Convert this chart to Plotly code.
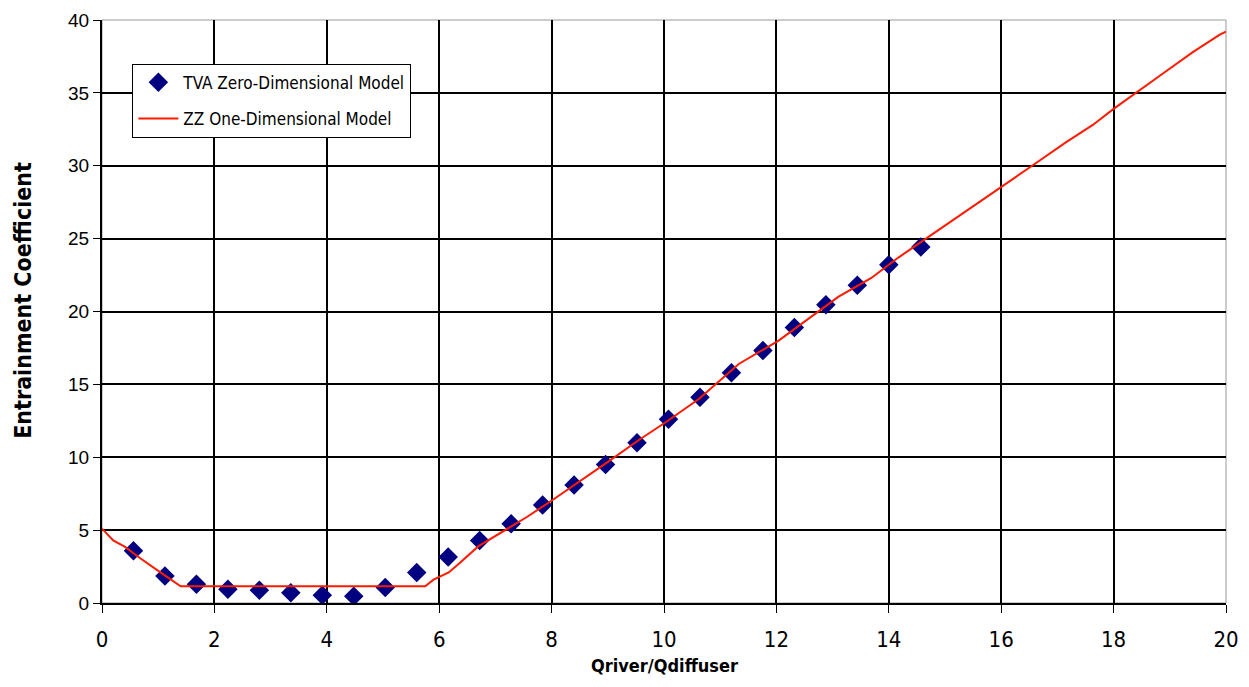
import plotly.graph_objects as go

# TVA zero-dimensional model (markers)
tva_x = [0.56, 1.12, 1.68, 2.24, 2.80, 3.36, 3.92, 4.48, 5.04, 5.60, 6.16, 6.72, 7.28,
         7.84, 8.40, 8.96, 9.52, 10.08, 10.64, 11.20, 11.76, 12.32, 12.88, 13.44, 14.00, 14.57]
tva_y = [3.58, 1.85, 1.28, 0.95, 0.88, 0.70, 0.54, 0.47, 1.06, 2.10, 3.16, 4.29, 5.43,
         6.72, 8.10, 9.50, 11.0, 12.6, 14.12, 15.8, 17.33, 18.9, 20.46, 21.8, 23.2, 24.43]

# ZZ one-dimensional model (line)
zz_x = [0.0, 0.2, 0.41, 0.68, 1.04, 1.3, 1.4, 3.0, 4.5, 5.75, 5.9, 6.0, 6.17, 6.35, 6.7,
        7.26, 7.56, 8.03, 8.68, 8.97, 9.56, 10.03, 10.62, 10.8, 11.33, 12.04, 12.57, 13.1,
        13.69, 14.17, 14.7, 15.35, 15.95, 16.55, 17.15, 17.63, 18.0, 18.46, 18.94, 19.41,
        19.89, 20.0]
zz_y = [5.1, 4.3, 3.85, 3.07, 2.1, 1.44, 1.15, 1.15, 1.15, 1.15, 1.6, 1.8, 2.1, 2.7, 3.9,
        5.2, 5.9, 7.1, 8.8, 9.6, 11.2, 12.4, 14.0, 14.6, 16.4, 18.0, 19.5, 21.0,
        22.3, 23.7, 25.1, 26.8, 28.4, 30.0, 31.6, 32.8, 33.9, 35.2, 36.5, 37.8,
        39.0, 39.2]

x_ticks = [0, 2, 4, 6, 8, 10, 12, 14, 16, 18, 20]
y_ticks = [0, 5, 10, 15, 20, 25, 30, 35, 40]

narrow = "Liberation Sans Narrow, Arial Narrow, DejaVu Sans Condensed, Liberation Sans, Arial, sans-serif"
sans = "Liberation Sans, Arial, sans-serif"

fig = go.Figure()
fig.add_trace(go.Scatter(
    x=tva_x, y=tva_y, mode="markers", name="TVA Zero-Dimensional Model",
    legendgroup="a",
    marker=dict(symbol="diamond", size=15, color="#000080"),
))
fig.add_trace(go.Scatter(
    x=zz_x, y=zz_y, mode="lines", name="ZZ One-Dimensional Model",
    legendgroup="b",
    line=dict(color="#ff1a00", width=2),
))

fig.update_layout(
    width=1233, height=671,
    margin=dict(l=94, r=15, t=12, b=76, autoexpand=False),
    paper_bgcolor="white", plot_bgcolor="white",
    showlegend=True,
    legend=dict(
        x=0.027, y=0.925, xanchor="left", yanchor="top",
        bordercolor="black", borderwidth=1, bgcolor="white",
        font=dict(family=narrow, size=17, color="black"),
        tracegroupgap=11, itemwidth=40,
    ),
    xaxis=dict(
        range=[0, 20], tickvals=x_ticks, ticktext=[str(v) for v in x_ticks],
        showgrid=True, gridcolor="black", gridwidth=2,
        showline=True, linecolor="black", linewidth=2,
        ticks="outside", ticklen=8, tickcolor="black", tickwidth=1,
        ticklabelstandoff=8,
        zeroline=False, automargin=False,
        tickfont=dict(family=narrow, size=22, color="black"),
    ),
    yaxis=dict(
        range=[0, 40], tickvals=y_ticks, ticktext=[str(v) for v in y_ticks],
        showgrid=True, gridcolor="black", gridwidth=2,
        showline=True, linecolor="black", linewidth=2,
        ticks="outside", ticklen=7, tickcolor="black", tickwidth=1,
        zeroline=False, automargin=False,
        tickfont=dict(family=sans, size=19, color="black"),
    ),
    annotations=[
        dict(
            text="<b>Entrainment Coefficient</b>", textangle=-90,
            xref="paper", yref="paper", x=-0.0703, y=0.52,
            xanchor="center", yanchor="middle", showarrow=False,
            font=dict(family=narrow, size=23, color="black"),
        ),
        dict(
            text="<b>Qriver/Qdiffuser</b>",
            xref="paper", yref="paper", x=0.5, y=-0.108,
            xanchor="center", yanchor="middle", showarrow=False,
            font=dict(family=narrow, size=18, color="black"),
        ),
    ],
    shapes=[dict(type="rect", xref="paper", yref="paper", x0=0, y0=0, x1=1, y1=1,
                 line=dict(color="#999999", width=1), layer="below")],
)

fig.write_html("out.html")
